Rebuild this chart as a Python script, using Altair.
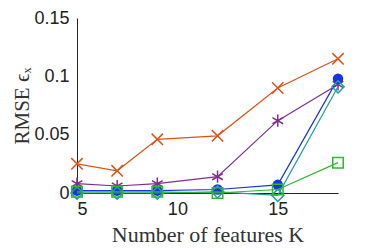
import altair as alt
import pandas as pd

K = [5, 7, 9, 12, 15, 18]
red_x = [0.025, 0.019, 0.046, 0.049, 0.090, 0.115]
purple_star = [0.008, 0.006, 0.008, 0.014, 0.062, 0.093]
blue_circle = [0.002, 0.002, 0.002, 0.003, 0.007, 0.098]
teal_diamond = [0.000, 0.000, 0.000, 0.001, -0.002, 0.091]
green_square = [0.001, 0.001, 0.001, 0.000, 0.003, 0.026]

XPATH = "M-1,-1L1,1M1,-1L-1,1"
STAR = "M0,-1L0,1M-0.87,-0.5L0.87,0.5M-0.87,0.5L0.87,-0.5"

series = [
    ("red", red_x, "#D95319", XPATH, False, 130),
    ("purple", purple_star, "#7E2F8E", STAR, False, 150),
    ("blue", blue_circle, "#1435E0", "circle", True, 110),
    ("teal", teal_diamond, "#1F9C9C", "diamond", False, 150),
    ("green", green_square, "#2EB82E", "square", False, 110),
]

xscale = alt.Scale(domain=[5, 18], nice=False, zero=False)
yscale = alt.Scale(domain=[0, 0.15], nice=False)

xaxis = alt.Axis(values=[5, 10, 15], title="Number of features K", grid=False,
                 tickSize=0, labelFont="Liberation Sans", labelFontSize=18,
                 labelColor="#222", titleFont="Liberation Serif", titleFontSize=22,
                 titleFontWeight="normal", titleColor="#333", domainColor="#222",
                 labelPadding=7, titlePadding=6)
yaxis = alt.Axis(values=[0, 0.05, 0.1, 0.15], title="RMSE ϵₓ", grid=False,
                 tickSize=0, labelExpr="format(datum.value, '.2~f')",
                 labelFont="Liberation Sans", labelFontSize=18, labelColor="#222",
                 titleFont="Liberation Serif", titleFontSize=21,
                 titleFontWeight="normal", titleColor="#333", domainColor="#222",
                 labelPadding=8, titlePadding=1)

layers = []
for i, (name, vals, color, shape, filled, size) in enumerate(series):
    df = pd.DataFrame({"K": K, "v": vals})
    base = alt.Chart(df)
    xenc = alt.X("K:Q", scale=xscale, axis=xaxis)
    yenc = alt.Y("v:Q", scale=yscale, axis=yaxis)
    line = base.mark_line(color=color, strokeWidth=1.2, clip=False).encode(x=xenc, y=yenc)
    pt = base.mark_point(shape=shape, filled=filled, color=color, size=size,
                         strokeWidth=1.5, opacity=1, clip=False).encode(x=xenc, y=yenc)
    layers += [line, pt]

chart = alt.layer(*layers).properties(
    width=261, height=175,
    autosize=alt.AutoSizeParams(type="none"),
    padding={"left": 69, "top": 10, "right": 20, "bottom": 56},
).configure(background="white").configure_view(stroke=None)

chart.save("out.html", embed_options={"renderer": "svg", "actions": False})
